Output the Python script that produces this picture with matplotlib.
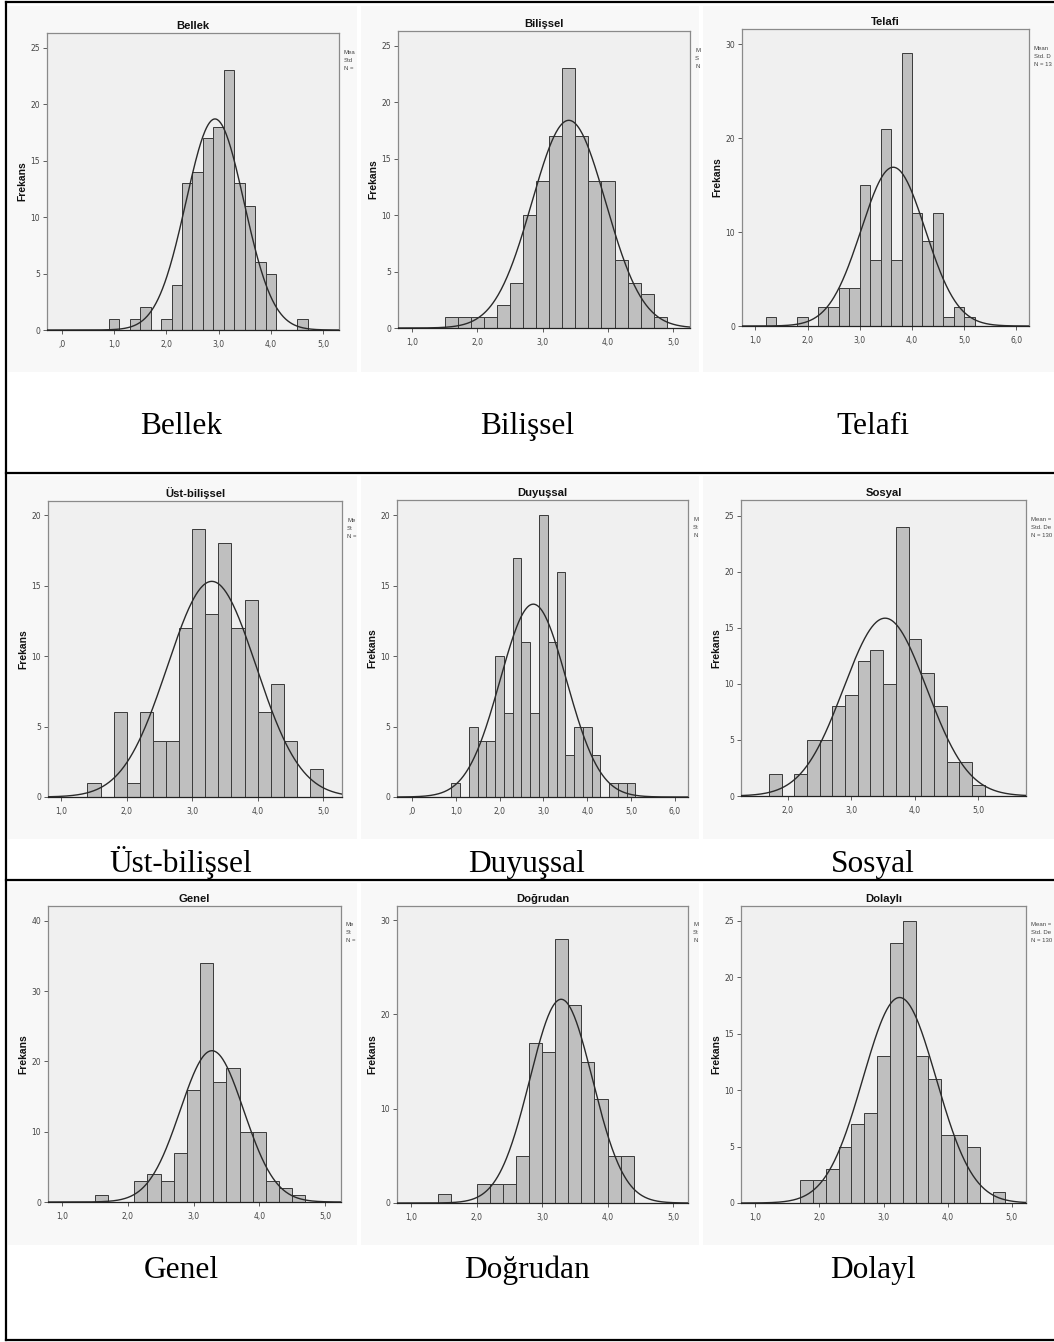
import numpy as np
import matplotlib
matplotlib.use("Agg")
import matplotlib.pyplot as plt
from matplotlib.lines import Line2D

W, H = 1054, 1342

# panel titles / captions
titles = ["Bellek", "Bilişsel", "Telafi",
          "Üst-bilişsel", "Duyuşsal", "Sosyal",
          "Genel", "Doğrudan", "Dolaylı"]
captions = ["Bellek", "Bilişsel", "Telafi",
            "Üst-bilişsel", "Duyuşsal", "Sosyal",
            "Genel", "Doğrudan", "Dolayl"]

# first bin edge of each histogram (bin width 0.2) and counts per bin
bin_width = 0.2
bin_start = [0.9, 1.5, 1.2, 1.4, 0.9, 1.7, 1.5, 1.4, 1.7]
counts_bellek = [1, 0, 1, 2, 0, 1, 4, 13, 14, 17, 18, 23, 13, 11, 6, 5, 0, 0, 1]
counts_bilissel = [1, 1, 1, 1, 2, 4, 10, 13, 17, 23, 17, 13, 13, 6, 4, 3, 1]
counts_telafi = [1, 0, 0, 1, 0, 2, 2, 4, 4, 15, 7, 21, 7, 29, 12, 9, 12, 1, 2, 1]
counts_ust = [1, 0, 6, 1, 6, 4, 4, 12, 19, 13, 18, 12, 14, 6, 8, 4, 0, 2]
counts_duyussal = [1, 0, 5, 4, 4, 10, 6, 17, 11, 6, 20, 11, 16, 3, 5, 5, 3, 0, 1, 1, 1]
counts_sosyal = [2, 0, 2, 5, 5, 8, 9, 12, 13, 10, 24, 14, 11, 8, 3, 3, 1]
counts_genel = [1, 0, 0, 3, 4, 3, 7, 16, 34, 17, 19, 10, 10, 3, 2, 1]
counts_dogrudan = [1, 0, 0, 2, 2, 2, 5, 17, 16, 28, 21, 15, 11, 5, 5]
counts_dolayli = [2, 2, 3, 5, 7, 8, 13, 23, 25, 13, 11, 6, 6, 5, 0, 1]
all_counts = [counts_bellek, counts_bilissel, counts_telafi, counts_ust, counts_duyussal,
              counts_sosyal, counts_genel, counts_dogrudan, counts_dolayli]

# normal curve parameters
means = [2.93, 3.40, 3.64, 3.30, 2.77, 3.53, 3.28, 3.29, 3.25]
sds = [0.555, 0.564, 0.614, 0.678, 0.757, 0.654, 0.482, 0.480, 0.570]
n_obs = 130

# the SPSS legend as far as it is visible inside each cropped image
legend_text = [["Mea", "Std", "N ="], ["M", "S", "N"], ["Mean", "Std. D", "N = 13"],
               ["Me", "St", "N ="], ["M", "St", "N"], ["Mean =", "Std. De", "N = 130"],
               ["Me", "St", "N ="], ["M", "St", "N"], ["Mean =", "Std. De", "N = 130"]]

# axis ranges and ticks
xlims = [(-0.28, 5.30), (0.786, 5.255), (0.745, 6.24),
         (0.797, 5.29), (-0.34, 6.30), (1.26, 5.75),
         (0.79, 5.24), (0.78, 5.23), (0.78, 5.22)]
ytops = [26.3, 26.3, 31.6, 21.0, 21.1, 26.4, 42.1, 31.5, 26.3]
xticks = [range(0, 6), range(1, 6), range(1, 7),
          range(1, 6), range(0, 7), range(2, 6),
          range(1, 6), range(1, 6), range(1, 6)]
ysteps = [5, 5, 10, 5, 5, 5, 10, 10, 5]

# layout in pixels: axes (left, top, right, bottom)
axes_px = [(47, 33, 339, 330), (398, 31, 690, 328), (742, 29, 1029, 326),
           (48, 501, 342, 797), (397, 500, 688, 797), (741, 500, 1026, 796),
           (48, 906, 341, 1202), (397, 906, 688, 1203), (741, 906, 1026, 1203)]
row_px = [(6, 372), (476, 839), (883, 1245)]
col_px = [(8, 357), (361, 699), (703, 1054)]
caption_x = [181, 527, 873]
caption_base = [434, 872, 1278]


def fx(x):
    return x / W


def fy(y):
    return 1 - y / H


def fmt(v):
    s = f"{v:.1f}".replace(".", ",")
    return ",0" if v == 0 else s


fig = plt.figure(figsize=(W / 100, H / 100), dpi=100)
fig.patch.set_facecolor("white")

for i in range(9):
    r, c = divmod(i, 3)
    # image background of the panel
    y0, y1 = row_px[r]
    x0, x1 = col_px[c]
    pan = fig.add_axes([fx(x0), fy(y1), (x1 - x0) / W, (y1 - y0) / H])
    pan.set_facecolor("#f8f8f8")
    pan.set_xticks([])
    pan.set_yticks([])
    for s in pan.spines.values():
        s.set_visible(False)
    pan.set_xlim(x0, x1)
    pan.set_ylim(y1, y0)

    l, t, rr, b = axes_px[i]
    ax = fig.add_axes([fx(l), fy(b), (rr - l) / W, (b - t) / H])
    ax.set_facecolor("#f0f0f0")

    counts = all_counts[i]
    lefts = bin_start[i] + bin_width * np.arange(len(counts))
    ax.bar(lefts, counts, width=bin_width, align="edge", color="#bfbfbf",
           edgecolor="#3a3a3a", linewidth=0.7, zorder=2)

    xs = np.linspace(xlims[i][0], xlims[i][1], 400)
    ys = n_obs * bin_width / (sds[i] * np.sqrt(2 * np.pi)) * np.exp(-0.5 * ((xs - means[i]) / sds[i]) ** 2)
    ax.plot(xs, ys, color="#2a2a2a", linewidth=1.0, zorder=3)

    ax.set_xlim(*xlims[i])
    ax.set_ylim(0, ytops[i])
    ax.set_xticks(list(xticks[i]))
    ax.set_xticklabels([fmt(v) for v in xticks[i]])
    yt = np.arange(0, ytops[i], ysteps[i])
    ax.set_yticks(yt)
    ax.set_yticklabels([str(int(v)) for v in yt])
    ax.tick_params(axis="both", labelsize=5.5, labelcolor="#444444", color="#444444",
                   length=3, width=0.6, pad=2)
    ax.tick_params(axis="x", pad=4)
    for s in ax.spines.values():
        s.set_color("#8a8a8a")
        s.set_linewidth(0.9)
    ax.spines["bottom"].set_color("#222222")

    ax.set_title(titles[i], fontsize=8.1, fontweight="bold", family="Liberation Sans",
                 color="#111111", pad=3)
    fig.text(fx(l - 25), fy((t + b) / 2), "Frekans", rotation=90, ha="center", va="center",
             fontsize=7.4, fontweight="bold", family="Liberation Sans", color="#111111")

    for k, line in enumerate(legend_text[i]):
        pan.text(rr + 5, t + 19 + 8 * k, line, fontsize=4.3, color="#444444",
                 family="Liberation Sans", ha="left", va="center")

    fig.text(fx(caption_x[c]), fy(caption_base[r]), captions[i], ha="center", va="baseline",
             fontsize=22.6, family="Liberation Serif", color="black")

# table borders
border_kw = dict(color="black", linewidth=1.6, transform=fig.transFigure)
fig.add_artist(Line2D([fx(6), fx(6)], [fy(2), fy(1340)], **border_kw))
for yy in [2, 473, 880, 1340]:
    fig.add_artist(Line2D([fx(6), 1], [fy(yy), fy(yy)], **border_kw))

fig.savefig("out.png", dpi=100)
